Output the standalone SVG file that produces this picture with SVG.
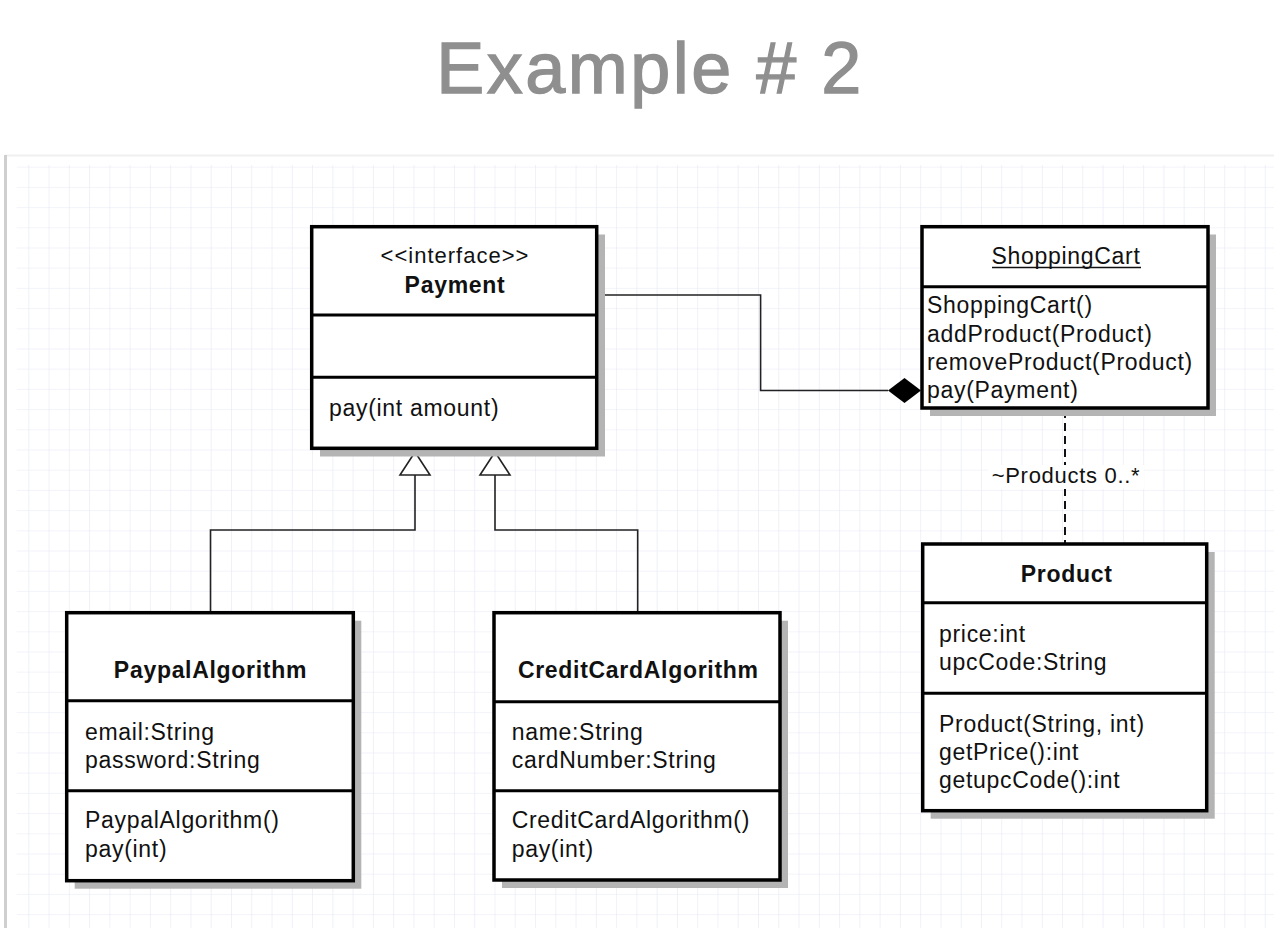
<svg xmlns="http://www.w3.org/2000/svg" width="1274" height="928" viewBox="0 0 1274 928">
  <style>
    .t { font-family: "Liberation Sans", Arial, Helvetica, sans-serif; font-size: 23px; letter-spacing: 0.7px; fill: #111; }
    .b { font-weight: bold; letter-spacing: 0.7px; }
    .c { text-anchor: middle; }
    .box { fill: #fff; stroke: #000; stroke-width: 3.5; }
    .div { stroke: #000; stroke-width: 3; fill: none; }
    .shadow { fill: #b4b4b4; }
    .conn { fill: none; stroke: #222; stroke-width: 1.6; }
  </style>
  <defs>
    <pattern id="grid" patternUnits="userSpaceOnUse" x="28.3" y="166.7" width="20.27" height="20.2">
      <path d="M0 0 V20.2 M0 0 H20.27" fill="none" stroke="#e7e7f7" stroke-width="1.2"/>
    </pattern>
  </defs>
  <rect x="0" y="0" width="1274" height="928" fill="#ffffff"/>
  <text x="650" y="93" text-anchor="middle" font-family="'Liberation Sans', Arial, Helvetica, sans-serif" font-size="72" letter-spacing="2.5" fill="#8f8f8f" stroke="#8f8f8f" stroke-width="1.3">Example # 2</text>

  <g id="panel">
    <rect x="5" y="155" width="1275" height="780" fill="#fff"/>
    <line x1="5" y1="155.5" x2="1274" y2="155.5" stroke="#f0f0f0" stroke-width="2"/>
    <line x1="5.5" y1="155" x2="5.5" y2="928" stroke="#cfcfcf" stroke-width="3"/>
    <rect x="16.7" y="165" width="1258" height="763" fill="url(#grid)"/>
  </g>

  <g id="connectors">
    <polyline class="conn" points="597,295 760.6,295 760.6,390.5 888,390.5"/>
    <polygon points="888,390.5 904.5,378 921,390.5 904.5,403" fill="#000"/>
    <polyline class="conn" points="210.5,612.7 210.5,530 415,530 415,475"/>
    <polygon points="400,475 430,475 415,452" fill="#fff" stroke="#222" stroke-width="1.6"/>
    <polyline class="conn" points="637.7,612.7 637.7,530 495,530 495,475"/>
    <polygon points="480,475 510,475 495,452" fill="#fff" stroke="#222" stroke-width="1.6"/>
    <line x1="1065" y1="410" x2="1065" y2="543" stroke="#111" stroke-width="2" stroke-dasharray="8 5"/>
    <rect x="988" y="465" width="156" height="24" fill="#fff"/>
    <text class="t c" x="1066" y="483" style="font-size:22px">~Products 0..*</text>
  </g>

  <g id="payment">
    <rect class="shadow" x="320" y="234.5" width="285" height="222"/>
    <rect class="box" x="311.7" y="226.7" width="285" height="221.6"/>
    <line class="div" x1="311.7" y1="315" x2="596.7" y2="315"/>
    <line class="div" x1="311.7" y1="377.3" x2="596.7" y2="377.3"/>
    <text class="t c" x="455" y="263" style="font-size:22px;letter-spacing:1px">&lt;&lt;interface&gt;&gt;</text>
    <text class="t b c" x="455" y="293">Payment</text>
    <text class="t" x="329" y="416">pay(int amount)</text>
  </g>

  <g id="shoppingcart">
    <rect class="shadow" x="930" y="234.5" width="286" height="181.5"/>
    <rect class="box" x="922" y="226.7" width="286" height="181.3"/>
    <line class="div" x1="922" y1="286.7" x2="1208" y2="286.7"/>
    <text class="t c" x="1066" y="264">ShoppingCart</text>
    <line x1="992" y1="267.5" x2="1141" y2="267.5" stroke="#111" stroke-width="1.5"/>
    <text class="t" x="927" y="313">ShoppingCart()</text>
    <text class="t" x="927" y="342">addProduct(Product)</text>
    <text class="t" x="927" y="370">removeProduct(Product)</text>
    <text class="t" x="927" y="398">pay(Payment)</text>
  </g>

  <g id="product">
    <rect class="shadow" x="930.7" y="552" width="284" height="266.7"/>
    <rect class="box" x="922.7" y="544" width="284" height="266.7"/>
    <line class="div" x1="922.7" y1="602.7" x2="1206.7" y2="602.7"/>
    <line class="div" x1="922.7" y1="693.3" x2="1206.7" y2="693.3"/>
    <text class="t b c" x="1066.7" y="581.5">Product</text>
    <text class="t" x="939" y="641.5">price:int</text>
    <text class="t" x="939" y="670">upcCode:String</text>
    <text class="t" x="939" y="731.5">Product(String, int)</text>
    <text class="t" x="939" y="760">getPrice():int</text>
    <text class="t" x="939" y="787.5">getupcCode():int</text>
  </g>

  <g id="paypal">
    <rect class="shadow" x="74.7" y="620.7" width="286.6" height="268"/>
    <rect class="box" x="66.7" y="612.7" width="286.6" height="268"/>
    <line class="div" x1="66.7" y1="700.7" x2="353.3" y2="700.7"/>
    <line class="div" x1="66.7" y1="790.7" x2="353.3" y2="790.7"/>
    <text class="t b c" x="210.5" y="678.3">PaypalAlgorithm</text>
    <text class="t" x="85" y="740">email:String</text>
    <text class="t" x="85" y="768.3">password:String</text>
    <text class="t" x="85" y="828.3">PaypalAlgorithm()</text>
    <text class="t" x="85" y="856.5">pay(int)</text>
  </g>

  <g id="creditcard">
    <rect class="shadow" x="502" y="620.7" width="286" height="267.3"/>
    <rect class="box" x="494" y="612.7" width="286" height="267.3"/>
    <line class="div" x1="494" y1="701.7" x2="780" y2="701.7"/>
    <line class="div" x1="494" y1="790.7" x2="780" y2="790.7"/>
    <text class="t b c" x="638.3" y="678.3">CreditCardAlgorithm</text>
    <text class="t" x="511.7" y="740">name:String</text>
    <text class="t" x="511.7" y="768.3">cardNumber:String</text>
    <text class="t" x="511.7" y="828.3">CreditCardAlgorithm()</text>
    <text class="t" x="511.7" y="856.5">pay(int)</text>
  </g>
</svg>
